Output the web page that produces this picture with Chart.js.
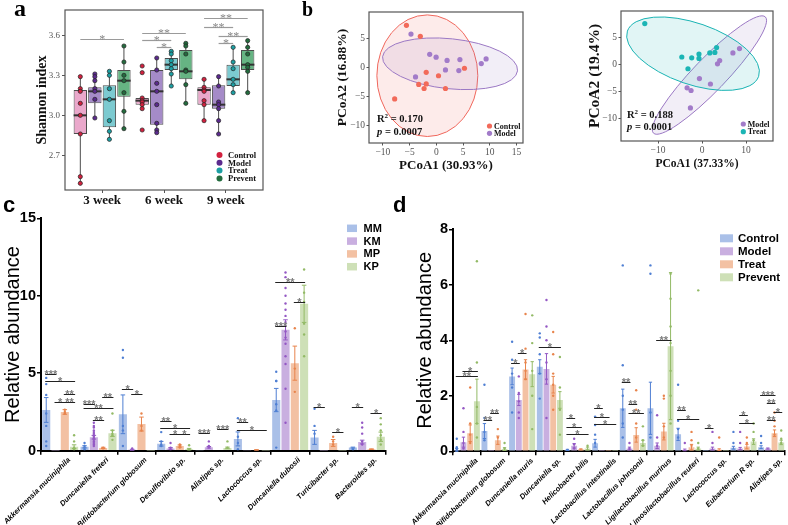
<!DOCTYPE html>
<html>
<head>
<meta charset="utf-8">
<script src="https://cdn.jsdelivr.net/npm/chart.js@4.4.1/dist/chart.umd.min.js"></script>
<style>
  html, body { margin: 0; padding: 0; background: #fff; }
  body { position: relative; width: 788px; height: 525px; overflow: hidden; }
  .panel { position: absolute; }
  .tag { position: absolute; font-weight: bold; line-height: 1; color: #000; }
  .serif { font-family: 'Liberation Serif', 'Times New Roman', serif; }
  .sans { font-family: 'Liberation Sans', Arial, sans-serif; }
  .stat { position: absolute; font: bold 10.5px 'Liberation Serif', serif; color: #111; white-space: nowrap; line-height: 1; }
  .stat sup { font-size: 7px; vertical-align: 0; position: relative; top: -4px; }
</style>
</head>
<body>
<canvas id="boxA" class="panel" width="270" height="205" style="left:0;top:0"></canvas>
<canvas id="pcoaB1" class="panel" width="230" height="175" style="left:300px;top:0"></canvas>
<canvas id="pcoaB2" class="panel" width="228" height="175" style="left:560px;top:0"></canvas>
<canvas id="barC" class="panel" width="392" height="325" style="left:0;top:200px"></canvas>
<canvas id="barD" class="panel" width="396" height="325" style="left:392px;top:200px"></canvas>

<div class="tag serif" style="left:14px;top:-4px;font-size:24px">a</div>
<div class="tag serif" style="left:302px;top:-1px;font-size:20px">b</div>
<div class="tag sans" style="left:3px;top:194px;font-size:22px">c</div>
<div class="tag sans" style="left:393px;top:194px;font-size:22px">d</div>

<div class="stat" style="left:377px;top:114px">R<sup>2</sup> = 0.170</div>
<div class="stat" style="left:377px;top:127px"><i>p</i> = 0.0007</div>
<div class="stat" style="left:627px;top:110px">R<sup>2</sup> = 0.188</div>
<div class="stat" style="left:627px;top:122px"><i>p</i> = 0.0001</div>

<script>
// ===== data: panel a (Shannon index boxplots) =====
const weekLabels = ['3 week', '6 week', '9 week'];
const groupNames = ['Control', 'Model', 'Treat', 'Prevent'];
const shannonTicks = [2.7, 3.0, 3.3, 3.6];
// [lower whisker, Q1, median, Q3, upper whisker] for each week
const boxControl = [[2.49, 2.86, 3.0, 3.19, 3.29], [3.05, 3.08, 3.11, 3.13, 3.13], [2.96, 3.08, 3.19, 3.21, 3.27]];
const boxModel = [[2.98, 3.09, 3.18, 3.21, 3.31], [2.87, 2.93, 3.18, 3.34, 3.43], [2.86, 3.05, 3.08, 3.225, 3.29]];
const boxTreat = [[2.82, 2.91, 3.12, 3.225, 3.335], [3.22, 3.34, 3.38, 3.43, 3.48], [3.17, 3.22, 3.27, 3.38, 3.51]];
const boxPrevent = [[2.9, 3.14, 3.26, 3.34, 3.52], [3.09, 3.27, 3.33, 3.49, 3.54], [3.17, 3.34, 3.38, 3.49, 3.56]];
const ptsControl = [[3.29, 3.2, 3.18, 3.09, 3.0, 2.86, 2.54, 2.49], [3.37, 3.32, 3.13, 3.11, 3.1, 3.08, 3.05, 2.89], [3.27, 3.21, 3.19, 3.18, 3.11, 3.08, 2.96]];
const ptsModel = [[3.31, 3.29, 3.26, 3.2, 3.18, 3.12, 2.98], [3.43, 3.34, 3.24, 3.18, 3.08, 2.94, 2.89, 2.87], [3.29, 3.22, 3.1, 3.08, 3.05, 2.96, 2.86]];
const ptsTreat = [[3.33, 3.3, 3.2, 3.12, 2.96, 2.88, 2.82], [3.48, 3.46, 3.41, 3.38, 3.35, 3.31, 3.22], [3.51, 3.4, 3.35, 3.27, 3.23, 3.17]];
const ptsPrevent = [[3.52, 3.4, 3.3, 3.26, 3.17, 3.03, 2.9], [3.54, 3.52, 3.46, 3.34, 3.33, 3.23, 3.09], [3.56, 3.51, 3.46, 3.38, 3.36, 3.33, 3.17]];
// [week, from group, to group, value, label]
const sigA = [
  [0, 0, 3, 3.57, '*'],
  [1, 0, 3, 3.62, '**'], [1, 0, 2, 3.565, '*'], [1, 1, 2, 3.51, '*'],
  [2, 0, 3, 3.73, '**'], [2, 0, 2, 3.66, '**'], [2, 1, 3, 3.595, '**'], [2, 1, 2, 3.54, '*'],
];

// ===== data: panel b (PCoA) =====
const pcoa1Control = [[-5.6, 7.2], [-3.0, 5.3], [-1.9, -0.9], [0.4, -1.5], [5.25, -0.2], [-3.3, -3.0], [-2.3, -3.7], [-1.9, -2.9], [1.7, -3.7], [-7.8, -5.5]];
const pcoa1Model = [[-4.75, 5.7], [-1.25, 2.2], [-0.05, 1.7], [2.0, 1.15], [4.4, 1.3], [8.4, 0.6], [9.3, 1.4], [1.7, -0.5], [4.2, -0.6], [-3.9, -1.7]];
const pcoa2Model = [[-3.4, -4.3], [-2.5, -4.8], [-0.6, -2.6], [1.9, -3.6], [-2.65, -8.0], [3.5, 0.1], [4.0, 0.7], [7.0, 2.1], [8.5, 2.9]];
const pcoa2Treat = [[-13.0, 7.5], [-4.6, 1.35], [-2.35, 1.2], [-0.7, 1.9], [-0.7, 1.1], [-3.2, -0.8], [1.75, 2.1], [2.9, 2.2], [3.3, 3.1]];
// confidence ellipses: [centre x, centre y, axis1 dx, axis1 dy, axis2 dx, axis2 dy]
const ellipse1Control = [-1.69, -1.49, 9.44, 0, 0, 10.49];
const ellipse1Model = [2.56, 0.57, 12.62, -1.22, -0.49, -4.29];
const ellipse2Model = [1.67, -1.96, 12.69, 10.67, 2.67, -2.09];
const ellipse2Treat = [-2.05, 1.96, 14.9, -4.15, -2.26, -5.32];

// ===== data: panel c (MM / KM / MP / KP) =====
const taxaC = ['Akkermansia muciniphila', 'Duncaniella freteri', 'Bifidobacterium globosum', 'Desulfovibrio sp.', 'Alistipes sp.', 'Lactococcus sp.', 'Duncaniella dubosii', 'Turicibacter sp.', 'Bacteroides sp.'];
const seriesC = ['MM', 'KM', 'MP', 'KP'];
const meanMM = [2.63, 0.25, 2.35, 0.45, 0.03, 0.76, 3.27, 0.86, 0.2];
const meanKM = [0.02, 0.87, 0.06, 0.15, 0.22, 0.03, 7.8, 0.02, 0.56];
const meanMP = [2.5, 0.18, 1.72, 0.3, 0.04, 0.05, 5.65, 0.5, 0.1];
const meanKP = [0.26, 1.12, 0.02, 0.1, 0.18, 0.02, 9.48, 0.02, 0.9];
const errMM = [0.8, 0.07, 1.25, 0.15, 0, 0.45, 0.75, 0.45, 0.03];
const errKM = [0, 0.12, 0.03, 0.05, 0.05, 0, 0.65, 0, 0.12];
const errMP = [0.15, 0.04, 0.45, 0.07, 0, 0.02, 1.1, 0.22, 0.02];
const errKP = [0.12, 0.2, 0, 0.05, 0.05, 0, 1.2, 0, 0.3];
const dotsMM = [[4.7, 4.3, 3.6, 2.4, 1.6, 0.6, 0.3], [0.5, 0.3, 0.2, 0.1], [6.5, 6.0, 1.6, 1.3, 0.3], [1.2, 0.6, 0.4, 0.3], [], [2.1, 0.9, 0.5, 0.1], [5.1, 4.5, 4.5, 3.0, 2.6, 0.2], [2.7, 1.6, 1.1], [0.1]];
const dotsKM = [[], [1.8, 1.6, 1.5, 1.3, 1.2, 1.1, 1.0, 0.9, 0.8, 0.7, 0.6, 0.5, 0.4, 0.3], [0.15], [0.5, 0.2, 0.1], [0.6, 0.3, 0.2], [], [11.5, 11.2, 10.5, 10.0, 9.5, 9.1, 8.7, 8.3, 7.7, 7.3, 6.9, 6.1, 5.6, 4.0, 1.8], [], [1.8, 1.5, 1.1, 0.6, 0.4]];
const dotsMP = [[2.65, 2.5, 2.4], [0.2, 0.15], [2.4, 1.6, 1.3], [0.4, 0.3, 0.2], [], [], [7.9, 5.3, 3.8], [0.9, 0.6, 0.4], []];
const dotsKP = [[1.0, 0.6, 0.2, 0.1], [2.4, 1.3, 1.1, 1.0, 0.7], [], [0.35, 0.1], [0.6, 0.2], [], [11.7, 10.2, 9.6, 8.2, 7.5, 6.1], [], [2.1, 1.7, 1.3, 1.0, 0.7, 0.4]];
// [taxon, from series, to series, value, label]
const sigC = [
  [0, 0, 1, 4.94, '***'], [0, 0, 3, 4.5, '*'], [0, 2, 3, 3.65, '**'], [0, 1, 2, 3.17, '*'], [0, 2, 3, 3.17, '**'],
  [1, 0, 1, 3.0, '***'], [1, 0, 3, 2.74, '**'], [1, 2, 3, 3.49, '**'], [1, 1, 2, 1.98, '**'],
  [2, 0, 1, 3.97, '*'], [2, 1, 2, 3.65, '*'],
  [3, 0, 1, 1.94, '**'], [3, 0, 3, 1.49, '*'], [3, 1, 2, 1.06, '*'], [3, 2, 3, 1.06, '*'],
  [4, 0, 1, 1.12, '***'], [4, 2, 3, 1.42, '***'],
  [5, 0, 1, 1.88, '**'], [5, 0, 3, 1.34, '*'],
  [6, 0, 1, 8.02, '***'], [6, 0, 3, 10.86, '**'], [6, 2, 3, 9.57, '*'],
  [7, 0, 1, 2.85, '*'], [7, 2, 3, 1.23, '*'],
  [8, 0, 1, 2.85, '*'], [8, 2, 3, 2.42, '*'],
];

// ===== data: panel d (Control / Model / Treat / Prevent) =====
const taxaD = ['Akkermansia muciniphila', 'Bifidobacterium globosum', 'Duncaniella muris', 'Duncaniella sp.', 'Helicobacter bilis', 'Lactobacillus intestinalis', 'Lactobacillus johnsonii', 'Ligilactobacillus murinus', 'Limosilactobacillus reuteri', 'Lactococcus sp.', 'Eubacterium R sp.', 'Alistipes sp.'];
const meanControl = [0.05, 0.73, 2.7, 3.05, 0.05, 0.29, 1.55, 1.55, 0.61, 0.01, 0.13, 0.15];
const meanModel = [0.33, 0.01, 1.85, 2.97, 0.2, 0.01, 0.1, 0.2, 0.05, 0.1, 0.1, 0.1];
const meanTreat = [0.65, 0.4, 2.95, 2.4, 0.07, 0.01, 0.59, 0.71, 0.15, 0.06, 0.17, 0.65];
const meanPrevent = [1.8, 0.08, 2.78, 1.85, 0.1, 0.01, 0.3, 3.79, 0.1, 0.01, 0.35, 0.32];
const errControl = [0.05, 0.27, 0.3, 0.25, 0.02, 0.14, 0.69, 0.94, 0.22, 0, 0.05, 0.05];
const errModel = [0.18, 0, 0.2, 0.55, 0.08, 0, 0.05, 0.1, 0.03, 0.05, 0.04, 0.02];
const errTreat = [0.3, 0.15, 0.35, 0.3, 0.02, 0, 0.26, 0.3, 0.1, 0.03, 0.08, 0.12];
const errPrevent = [0.8, 0.05, 0.45, 0.3, 0.05, 0, 0.1, 2.65, 0.05, 0, 0.1, 0.08];
const dotsControl = [[0.45, 0.15, 0.05], [2.4, 1.2, 0.7, 0.4], [3.95, 3.3, 2.8, 2.3, 1.4], [4.25, 4.1, 3.5, 2.8, 1.9], [0.05], [1.25, 0.95, 0.6, 0.3], [6.7, 3.1, 2.0, 1.5, 1.0, 0.5], [6.7, 6.4, 1.4, 0.5], [2.4, 1.1, 0.8, 0.5], [], [0.7, 0.3], [0.55, 0.3]];
const dotsModel = [[1.55, 0.7, 0.3, 0.1], [], [2.7, 2.1, 1.8, 1.4, 1.2], [5.45, 4.5, 4.0, 3.2, 2.6, 1.2], [0.45, 0.25, 0.1], [], [0.3, 0.1], [1.3, 0.5, 0.2], [0.3], [0.7, 0.3], [0.7, 0.3], []];
const dotsTreat = [[2.3, 1.0, 0.6, 0.3], [0.8, 0.5], [4.95, 3.7, 3.2, 2.9, 2.6], [4.3, 3.5, 2.8, 2.4, 2.0, 1.5], [], [], [2.2, 1.5, 1.0, 0.5], [2.0, 1.9, 0.9, 0.5], [0.7, 0.4, 0.2], [0.5], [0.5, 0.3], [1.4, 1.1, 0.9, 0.6]];
const dotsPrevent = [[6.85, 3.2, 1.6, 1.0, 0.5], [0.3, 0.1], [4.9, 3.9, 2.9, 2.0, 0.8], [3.4, 2.3, 1.5, 0.6], [0.2], [], [0.9, 0.4, 0.2], [6.4, 5.5, 4.5, 3.9, 2.9, 2.0, 1.0], [5.8, 0.3, 0.1], [], [1.0, 0.7, 0.4], [0.75, 0.45, 0.3]];
const sigD = [
  [0, 1, 3, 2.9, '*'], [0, 0, 3, 2.71, '**'],
  [1, 0, 1, 1.13, '**'], [1, 1, 2, 1.39, '**'],
  [2, 0, 1, 3.17, '*'], [2, 1, 2, 3.53, '*'],
  [3, 0, 3, 3.75, '*'],
  [4, 0, 1, 1.19, '*'], [4, 0, 2, 0.89, '*'], [4, 0, 3, 0.61, '*'],
  [5, 0, 1, 1.55, '*'], [5, 0, 2, 1.25, '*'], [5, 0, 3, 0.97, '*'],
  [6, 0, 1, 2.5, '**'], [6, 1, 2, 1.69, '**'], [6, 1, 3, 1.37, '**'],
  [7, 1, 3, 4.01, '**'],
  [8, 0, 1, 1.49, '**'], [8, 0, 3, 1.15, '*'],
  [9, 0, 1, 0.83, '*'],
  [10, 1, 2, 1.31, '*'], [10, 1, 3, 1.03, '*'],
  [11, 0, 2, 2.03, '***'], [11, 1, 2, 1.73, '**'], [11, 2, 3, 1.43, '*'], [11, 1, 2, 1.13, '**'],
];

// ===== styles =====
const SERIF = "'Liberation Serif', 'Times New Roman', serif";
const SANS = "'Liberation Sans', Arial, sans-serif";
const boxFills = ['#eaa8cb', '#a58bc8', '#7ccad0', '#66b483'];
const boxPointColors = ['#d2213f', '#5b2a8e', '#1c9fa3', '#236c3e'];
const barFills = ['#aac0e8', '#c9afe0', '#f3c1a3', '#cee0b7'];
const barInk = ['#4f7fd3', '#9458c4', '#e8844c', '#93ba66'];

Chart.defaults.font.family = SANS;
Chart.defaults.animation = false;
Chart.defaults.plugins.legend.display = false;
Chart.defaults.plugins.tooltip.enabled = false;

// ---- plugins ----

function panelFrame(color) {
  return {
    id: 'panelFrame',
    afterDraw(chart) {
      const { ctx, chartArea: a } = chart;
      ctx.save();
      ctx.strokeStyle = color;
      ctx.lineWidth = 1.2;
      ctx.strokeRect(a.left, a.top, a.right - a.left, a.bottom - a.top);
      ctx.restore();
    },
  };
}

// whiskers behind the boxes, medians and raw points on top
function boxExtras(stats, points) {
  return {
    id: 'boxExtras',
    beforeDatasetsDraw(chart) {
      const { ctx } = chart;
      const y = chart.scales.y;
      ctx.save();
      ctx.strokeStyle = '#4d4d4d';
      ctx.lineWidth = 1;
      stats.forEach((groupStats, i) => {
        chart.getDatasetMeta(i).data.forEach((bar, j) => {
          const s = groupStats[j];
          ctx.beginPath();
          ctx.moveTo(bar.x, y.getPixelForValue(s[0]));
          ctx.lineTo(bar.x, y.getPixelForValue(s[4]));
          ctx.stroke();
        });
      });
      ctx.restore();
    },
    afterDatasetsDraw(chart) {
      const { ctx } = chart;
      const y = chart.scales.y;
      ctx.save();
      stats.forEach((groupStats, i) => {
        chart.getDatasetMeta(i).data.forEach((bar, j) => {
          const ym = y.getPixelForValue(groupStats[j][2]);
          ctx.strokeStyle = '#333';
          ctx.lineWidth = 2;
          ctx.beginPath();
          ctx.moveTo(bar.x - bar.width / 2, ym);
          ctx.lineTo(bar.x + bar.width / 2, ym);
          ctx.stroke();
          points[i][j].forEach(v => {
            ctx.beginPath();
            ctx.arc(bar.x, y.getPixelForValue(v), 2.1, 0, Math.PI * 2);
            ctx.fillStyle = boxPointColors[i];
            ctx.fill();
            ctx.lineWidth = 0.7;
            ctx.strokeStyle = '#222';
            ctx.stroke();
          });
        });
      });
      ctx.restore();
    },
  };
}

// significance brackets between two bars of one category
function sigLines(items, style) {
  return {
    id: 'sigLines',
    afterDatasetsDraw(chart) {
      const { ctx } = chart;
      const y = chart.scales.y;
      ctx.save();
      ctx.strokeStyle = style.line;
      ctx.lineWidth = style.width;
      ctx.fillStyle = style.text;
      ctx.font = style.font;
      ctx.textAlign = 'center';
      ctx.textBaseline = 'alphabetic';
      items.forEach(([cat, from, to, v, label]) => {
        const x1 = chart.getDatasetMeta(from).data[cat].x - style.pad;
        const x2 = chart.getDatasetMeta(to).data[cat].x + style.pad;
        const yy = Math.round(y.getPixelForValue(v)) + 0.5;
        ctx.beginPath();
        ctx.moveTo(x1, yy);
        ctx.lineTo(x2, yy);
        ctx.stroke();
        ctx.fillText(label, (x1 + x2) / 2, yy + style.lift);
      });
      ctx.restore();
    },
  };
}

function dotLegend(labels, colors, pos) {
  return {
    id: 'dotLegend',
    afterDraw(chart) {
      const { ctx } = chart;
      ctx.save();
      ctx.font = pos.font;
      ctx.textAlign = 'left';
      ctx.textBaseline = 'middle';
      labels.forEach((label, i) => {
        const yy = pos.y + i * pos.dy;
        ctx.beginPath();
        ctx.arc(pos.x, yy, pos.r, 0, Math.PI * 2);
        ctx.fillStyle = colors[i];
        ctx.fill();
        ctx.fillStyle = '#111';
        ctx.fillText(label, pos.x + pos.gap, yy + 0.5);
      });
      ctx.restore();
    },
  };
}

function ellipses(list) {
  return {
    id: 'ellipses',
    beforeDatasetsDraw(chart) {
      const { ctx } = chart;
      const { x, y } = chart.scales;
      list.forEach(([e, stroke, fill]) => {
        const cx = x.getPixelForValue(e[0]);
        const cy = y.getPixelForValue(e[1]);
        const ux = x.getPixelForValue(e[0] + e[2]) - cx;
        const uy = y.getPixelForValue(e[1] + e[3]) - cy;
        const vx = x.getPixelForValue(e[0] + e[4]) - cx;
        const vy = y.getPixelForValue(e[1] + e[5]) - cy;
        ctx.save();
        ctx.beginPath();
        ctx.transform(ux, uy, vx, vy, cx, cy);
        ctx.arc(0, 0, 1, 0, Math.PI * 2);
        ctx.restore();
        ctx.save();
        ctx.fillStyle = fill;
        ctx.fill();
        ctx.strokeStyle = stroke;
        ctx.lineWidth = 1;
        ctx.stroke();
        ctx.restore();
      });
    },
  };
}

// error bars (mean ± SEM) and individual samples on the bars
function barExtras(errs, dots) {
  return {
    id: 'barExtras',
    afterDatasetsDraw(chart) {
      const { ctx } = chart;
      const y = chart.scales.y;
      ctx.save();
      chart.data.datasets.forEach((ds, i) => {
        ctx.strokeStyle = barInk[i];
        ctx.fillStyle = barInk[i];
        ctx.lineWidth = 1;
        chart.getDatasetMeta(i).data.forEach((bar, j) => {
          const m = ds.data[j];
          const e = errs[i][j];
          if (e > 0) {
            const yt = y.getPixelForValue(m + e);
            const yb = y.getPixelForValue(Math.max(m - e, 0));
            const cw = bar.width * 0.28;
            ctx.beginPath();
            ctx.moveTo(bar.x, yb);
            ctx.lineTo(bar.x, yt);
            ctx.moveTo(bar.x - cw, yt);
            ctx.lineTo(bar.x + cw, yt);
            ctx.moveTo(bar.x - cw, yb);
            ctx.lineTo(bar.x + cw, yb);
            ctx.stroke();
          }
          dots[i][j].forEach(v => {
            ctx.beginPath();
            ctx.arc(bar.x, y.getPixelForValue(v), 1.2, 0, Math.PI * 2);
            ctx.fill();
          });
        });
      });
      ctx.restore();
    },
  };
}

function swatchLegend(pos) {
  return {
    id: 'swatchLegend',
    afterDraw(chart) {
      const { ctx } = chart;
      ctx.save();
      ctx.font = pos.font;
      ctx.textAlign = 'left';
      ctx.textBaseline = 'middle';
      chart.data.datasets.forEach((ds, i) => {
        const yy = pos.y + i * pos.dy;
        ctx.fillStyle = ds.backgroundColor;
        ctx.fillRect(pos.x, yy - pos.h / 2, pos.w, pos.h);
        ctx.fillStyle = '#000';
        ctx.fillText(ds.label, pos.x + pos.w + pos.gap, yy + 0.5);
      });
      ctx.restore();
    },
  };
}

const minusFmt = v => (v < 0 ? '\u2212' + Math.abs(v) : String(v));

// ---- panel a ----
const boxStats = [boxControl, boxModel, boxTreat, boxPrevent];
const boxPoints = [ptsControl, ptsModel, ptsTreat, ptsPrevent];

new Chart(document.getElementById('boxA'), {
  type: 'bar',
  data: {
    datasets: groupNames.map((name, i) => ({
      label: name,
      data: boxStats[i].map((s, w) => ({ x: w + 1, y: [s[1], s[3]] })),
      backgroundColor: boxFills[i],
      borderColor: '#4d4d4d',
      borderWidth: 1,
      borderSkipped: false,
    })),
  },
  options: {
    responsive: false,
    layout: { padding: { top: 10, right: 7, left: 0, bottom: 0 } },
    datasets: { bar: { categoryPercentage: 0.94, barPercentage: 0.92 } },
    scales: {
      x: {
        type: 'linear', min: 0.4, max: 3.6, offset: false,
        afterBuildTicks: s => { s.ticks = weekLabels.map((_, i) => ({ value: i + 1 })); },
        afterFit: s => { s.height = 15; s.paddingLeft = 0; s.paddingRight = 0; },
        ticks: { callback: v => weekLabels[v - 1], font: { family: SERIF, size: 13, weight: 'bold' }, color: '#111', padding: 0, maxRotation: 0 },
        grid: { display: true, drawOnChartArea: false, tickLength: 3, color: '#555', offset: false },
        border: { display: false },
      },
      y: {
        min: 2.44, max: 3.79,
        afterBuildTicks: s => { s.ticks = shannonTicks.map(v => ({ value: v })); },
        afterFit: s => { s.width = 65; s.paddingTop = 0; s.paddingBottom = 0; },
        ticks: { callback: v => v.toFixed(1), font: { family: SERIF, size: 9 }, color: '#555', padding: 2 },
        grid: { display: true, drawOnChartArea: false, tickLength: 3, color: '#555' },
        border: { display: false },
        title: { display: true, text: 'Shannon index', font: { family: SERIF, size: 14, weight: 'bold' }, color: '#111', padding: { top: 34, bottom: 0 } },
      },
    },
  },
  plugins: [
    boxExtras(boxStats, boxPoints),
    sigLines(sigA, { line: '#9a9a9a', width: 1.2, text: '#888', font: `12px ${SERIF}`, pad: 0, lift: 3.5 }),
    panelFrame('#555'),
    dotLegend(groupNames, boxPointColors, { x: 219.5, y: 155, dy: 7.8, r: 3, gap: 8.5, font: `bold 8.5px ${SERIF}` }),
  ],
});

// ---- panel b ----
function pcoaChart(id, sets, ell, geo) {
  return new Chart(document.getElementById(id), {
    type: 'scatter',
    data: {
      datasets: sets.map(s => ({
        label: s.label,
        data: s.points.map(([x, y]) => ({ x, y })),
        backgroundColor: s.color,
        borderWidth: 0,
        pointRadius: 2.6,
      })),
    },
    options: {
      responsive: false,
      layout: { padding: { top: geo.top, right: geo.right, left: 0, bottom: 0 } },
      scales: {
        x: {
          min: geo.xMin, max: geo.xMax,
          afterBuildTicks: s => { s.ticks = geo.xTicks.map(v => ({ value: v })); },
          afterFit: s => { s.height = geo.xHeight; s.paddingLeft = 0; s.paddingRight = 0; },
          ticks: { callback: minusFmt, font: { family: SERIF, size: 9.5 }, color: '#555', padding: 1, maxRotation: 0 },
          grid: { display: true, drawOnChartArea: false, tickLength: 2.5, color: '#555' },
          border: { display: false },
          title: { display: true, text: geo.xTitle, font: { family: SERIF, size: geo.xTitleSize, weight: 'bold' }, color: '#111', padding: { top: 0, bottom: geo.xTitlePad } },
        },
        y: {
          min: geo.yMin, max: geo.yMax,
          afterBuildTicks: s => { s.ticks = geo.yTicks.map(v => ({ value: v })); },
          afterFit: s => { s.width = geo.yWidth; s.paddingTop = 0; s.paddingBottom = 0; },
          ticks: { callback: minusFmt, font: { family: SERIF, size: 9.5 }, color: '#555', padding: 1.5 },
          grid: { display: true, drawOnChartArea: false, tickLength: 2.5, color: '#555' },
          border: { display: false },
          title: { display: true, text: geo.yTitle, font: { family: SERIF, size: geo.yTitleSize, weight: 'bold' }, color: '#111', padding: { top: geo.yTitlePad, bottom: 0 } },
        },
      },
    },
    plugins: [
      ellipses(ell),
      panelFrame('#555'),
      dotLegend(sets.map(s => s.label), sets.map(s => s.color), geo.legend),
    ],
  });
}

pcoaChart('pcoaB1',
  [{ label: 'Control', points: pcoa1Control, color: '#f26a5a' }, { label: 'Model', points: pcoa1Model, color: '#a27bc9' }],
  [[ellipse1Control, '#f0675c', 'rgba(240,103,92,0.13)'], [ellipse1Model, '#9b78c4', 'rgba(155,120,196,0.13)']],
  {
    top: 12, right: 7, xHeight: 32, yWidth: 69,
    xMin: -12.6, xMax: 16.2, xTicks: [-10, -5, 0, 5, 10, 15],
    yMin: -13.1, yMax: 9.5, yTicks: [-10, -5, 0, 5],
    xTitle: 'PCoA1 (30.93%)', xTitleSize: 13, xTitlePad: 2,
    yTitle: 'PCoA2 (16.88%)', yTitleSize: 13.5, yTitlePad: 34,
    legend: { x: 189.5, y: 126, dy: 7.3, r: 2.6, gap: 4.5, font: `bold 8px ${SERIF}` },
  });

pcoaChart('pcoaB2',
  [{ label: 'Model', points: pcoa2Model, color: '#a27bc9' }, { label: 'Treat', points: pcoa2Treat, color: '#1bb5b5' }],
  [[ellipse2Model, '#9b78c4', 'rgba(155,120,196,0.13)'], [ellipse2Treat, '#19b3b3', 'rgba(25,179,179,0.13)']],
  {
    top: 11, right: 15, xHeight: 34, yWidth: 61,
    xMin: -18.4, xMax: 16.1, xTicks: [-10, 0, 10],
    yMin: -14.07, yMax: 9.8, yTicks: [-10, -5, 0, 5],
    xTitle: 'PCoA1 (37.33%)', xTitleSize: 11.5, xTitlePad: 4,
    yTitle: 'PCoA2 (19.4%)', yTitleSize: 15.5, yTitlePad: 25.7,
    legend: { x: 183.3, y: 124, dy: 7.7, r: 2.6, gap: 4.5, font: `bold 8px ${SERIF}` },
  });

// ---- panels c and d ----
function abundanceChart(id, taxa, names, means, errs, dots, sigs, geo) {
  return new Chart(document.getElementById(id), {
    type: 'bar',
    data: {
      labels: taxa,
      datasets: names.map((name, i) => ({
        label: name,
        data: means[i],
        backgroundColor: barFills[i],
        borderWidth: 0,
      })),
    },
    options: {
      responsive: false,
      layout: { padding: { top: geo.top, right: geo.right, left: 0, bottom: 0 } },
      datasets: { bar: { categoryPercentage: geo.catPct, barPercentage: geo.barPct } },
      scales: {
        x: {
          afterFit: s => { s.height = geo.xHeight; s.paddingLeft = 0; s.paddingRight = 0; },
          ticks: { autoSkip: false, minRotation: 45, maxRotation: 45, padding: 1, labelOffset: geo.labelShift, color: '#000', font: { family: SANS, size: 7.5, style: 'italic', weight: 'bold' } },
          grid: { display: true, drawOnChartArea: false, offset: true, tickLength: 4, color: '#000', lineWidth: 1.5 },
          border: { display: true, color: '#000', width: 2 },
        },
        y: {
          min: 0, max: geo.yMax,
          afterFit: s => { s.width = geo.yWidth; s.paddingTop = 0; s.paddingBottom = 0; },
          ticks: { stepSize: geo.yStep, padding: 1, color: '#000', font: { family: SANS, size: 14.5, weight: 'bold' } },
          grid: { display: true, drawOnChartArea: false, tickLength: 4, color: '#000', lineWidth: 1.5 },
          border: { display: true, color: '#000', width: 2 },
          title: { display: true, text: 'Relative abundance', color: '#000', font: { family: SANS, size: 20 }, padding: { top: geo.yTitlePad, bottom: 0 } },
        },
      },
    },
    plugins: [
      barExtras(errs, dots),
      sigLines(sigs, { line: '#222', width: 1, text: '#7d7d7d', font: `bold 11px ${SANS}`, pad: 1, lift: 3 }),
      swatchLegend(geo.legend),
    ],
  });
}

abundanceChart('barC', taxaC, seriesC,
  [meanMM, meanKM, meanMP, meanKP], [errMM, errKM, errMP, errKP], [dotsMM, dotsKM, dotsMP, dotsKP], sigC,
  {
    top: 18.3, right: 6, xHeight: 74.3, yWidth: 41, yMax: 15, yStep: 5, yTitlePad: 1.3,
    catPct: 0.97, barPct: 0.87, labelShift: 9,
    legend: { x: 347, y: 28.3, dy: 12.8, w: 10, h: 7.5, gap: 6.5, font: `bold 11px ${SANS}` },
  });

abundanceChart('barD', taxaD, groupNames,
  [meanControl, meanModel, meanTreat, meanPrevent], [errControl, errModel, errTreat, errPrevent], [dotsControl, dotsModel, dotsTreat, dotsPrevent], sigD,
  {
    top: 29.3, right: 3, xHeight: 73.7, yWidth: 61, yMax: 8, yStep: 2, yTitlePad: 21.5,
    catPct: 0.97, barPct: 0.88, labelShift: 10,
    legend: { x: 328, y: 38.3, dy: 13, w: 13, h: 8, gap: 5, font: `bold 11.5px ${SANS}` },
  });
</script>
</body>
</html>
